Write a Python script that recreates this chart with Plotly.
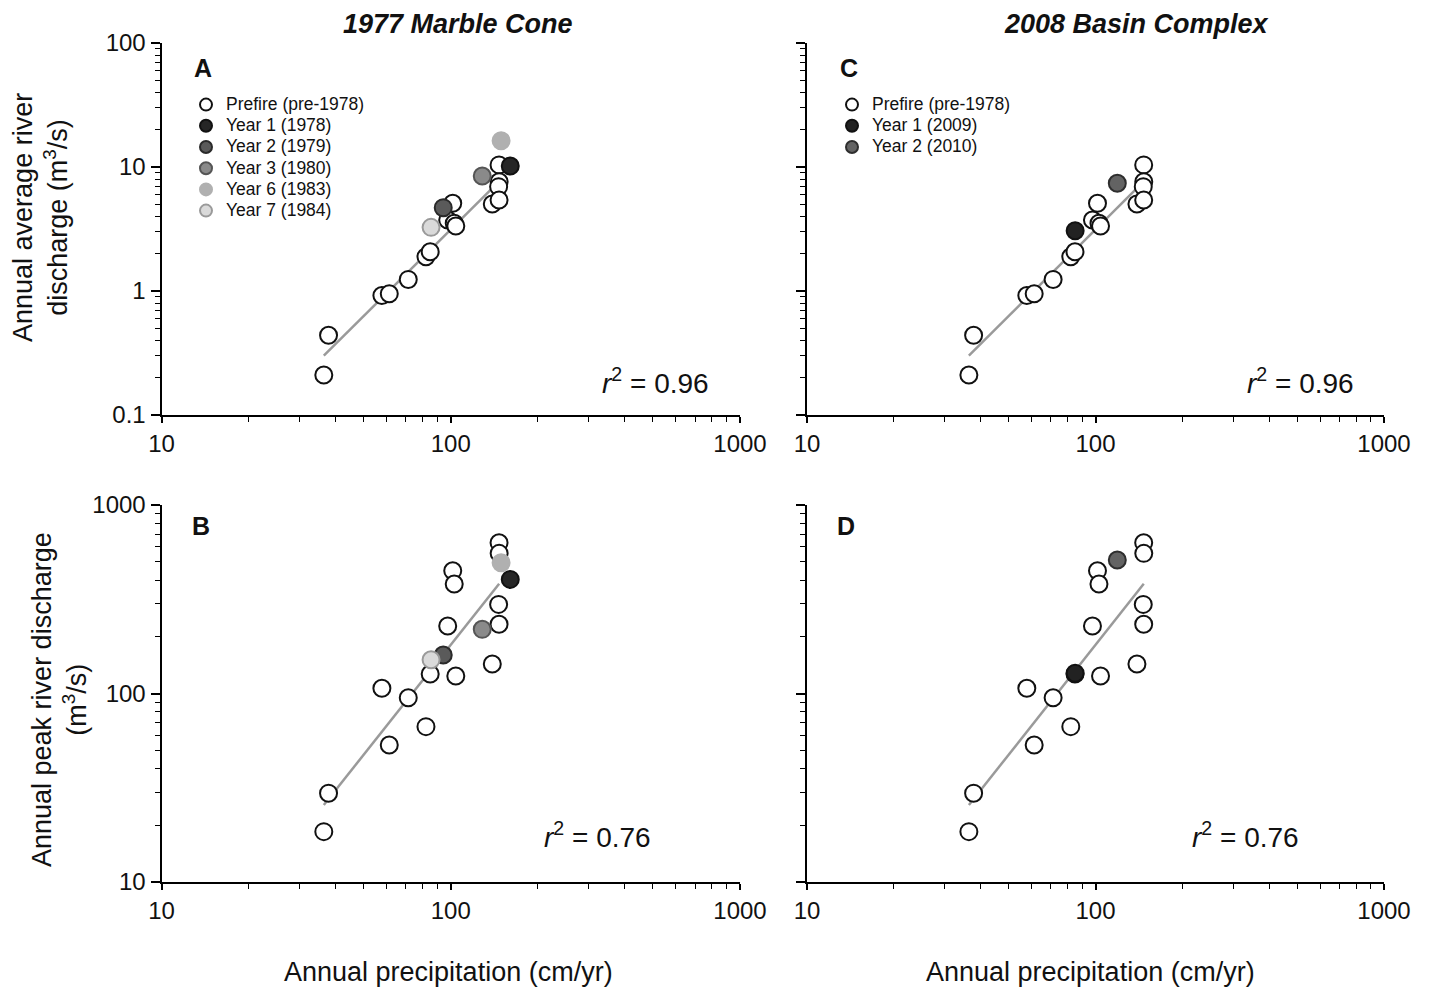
import numpy as np
import plotly.graph_objects as go

# ---------------- data ----------------
# Prefire (pre-1978) observations, shared by both fire panels
pre_precip = [36.4, 37.8, 57.8, 61.3, 71.3, 82.1, 84.9, 97.6, 101.6, 102.8,
              104.1, 139.2, 146.9, 147.0, 146.4, 146.9]
pre_avg = [0.21, 0.44, 0.92, 0.95, 1.24, 1.89, 2.07, 3.74, 5.10, 3.52,
           3.34, 5.03, 10.4, 7.61, 6.94, 5.42]
pre_peak = [18.5, 29.6, 106.6, 53.3, 95.0, 66.7, 126.9, 228, 448, 381,
            123.8, 143.4, 631, 554, 297, 233]

# 1977 Marble Cone postfire years
mc_labels = ["Year 1 (1978)", "Year 2 (1979)", "Year 3 (1980)",
             "Year 6 (1983)", "Year 7 (1984)"]
mc_precip = [160.6, 94.2, 128.5, 149.3, 85.5]
mc_avg = [10.2, 4.70, 8.46, 16.3, 3.26]
mc_peak = [403, 160, 219, 494, 151]

# 2008 Basin Complex postfire years
bc_labels = ["Year 1 (2009)", "Year 2 (2010)"]
bc_precip = [85.0, 119.0]
bc_avg = [3.06, 7.39]
bc_peak = [128, 511]

prefire_label = "Prefire (pre-1978)"
r2_avg = 0.96
r2_peak = 0.76

x_tick_vals = [10, 100, 1000]
x_tick_text = ["10", "100", "1000"]
avg_tick_vals = [0.1, 1, 10, 100]
avg_tick_text = ["0.1", "1", "10", "100"]
peak_tick_vals = [10, 100, 1000]
peak_tick_text = ["10", "100", "1000"]

# ---------------- styles ----------------
W, H = 1430, 993
OFF = 8  # page body margin
FONT = "Liberation Sans, Arial, Helvetica, sans-serif"
mc_fill = ["#262626", "#5a5a5a", "#8a8a8a", "#b0b0b0", "#dadada"]
mc_edge = ["#111111", "#2a2a2a", "#555555", "#b0b0b0", "#9a9a9a"]
bc_fill = ["#222222", "#636363"]
bc_edge = ["#111111", "#2e2e2e"]
MS = 17
FIT_COLOR = "#9a9a9a"
LEG_TEXT = 17.5


def px(x):
    return (x - OFF) / W


def py(y):
    return 1 - (y - OFF) / H


def minor_vals(exps):
    return [d * 10.0 ** e for e in exps for d in range(2, 10)]


def leg_name(s):
    return '<span style="font-size:%gpx">%s</span>' % (LEG_TEXT, s)


fig = go.Figure()


def fit_line(x, y):
    lx, ly = np.log10(x), np.log10(y)
    b, a = np.polyfit(lx, ly, 1)
    xs = np.array([min(x), max(x)])
    return xs, 10 ** (a + b * np.log10(xs))


panels = [
    ("x", "y", pre_avg, mc_labels, mc_precip, mc_avg, mc_fill, mc_edge, "legend"),
    ("x2", "y2", pre_avg, bc_labels, bc_precip, bc_avg, bc_fill, bc_edge, "legend2"),
    ("x3", "y3", pre_peak, mc_labels, mc_precip, mc_peak, mc_fill, mc_edge, None),
    ("x4", "y4", pre_peak, bc_labels, bc_precip, bc_peak, bc_fill, bc_edge, None),
]

for xa, ya, ypre, labs, xp, yp, fills, edges, leg in panels:
    fx, fy = fit_line(pre_precip, ypre)
    fig.add_trace(go.Scatter(x=fx, y=fy, mode="lines", xaxis=xa, yaxis=ya,
                             line=dict(color=FIT_COLOR, width=2.5),
                             showlegend=False, hoverinfo="skip"))
    fig.add_trace(go.Scatter(
        x=pre_precip, y=ypre, mode="markers", xaxis=xa, yaxis=ya,
        name=leg_name(prefire_label), showlegend=leg is not None,
        legend=leg if leg else "legend",
        marker=dict(size=MS, color="white", line=dict(color="#111111", width=2))))
    for i, lab in enumerate(labs):
        fig.add_trace(go.Scatter(
            x=[xp[i]], y=[yp[i]], mode="markers", xaxis=xa, yaxis=ya,
            name=leg_name(lab), showlegend=leg is not None,
            legend=leg if leg else "legend",
            marker=dict(size=MS, color=fills[i], line=dict(color=edges[i], width=2))))

tickfont = dict(family=FONT, size=24, color="#111111")


def xaxis(dom, anchor):
    return dict(type="log", range=[1, 3], domain=dom, anchor=anchor,
                automargin=False,
                showline=True, linecolor="black", linewidth=2, mirror=False,
                showgrid=False, zeroline=False,
                tickmode="array", tickvals=x_tick_vals, ticktext=x_tick_text,
                ticks="outside", ticklen=6, tickwidth=1.5, tickcolor="black",
                minor=dict(tickmode="array", tickvals=minor_vals([1, 2]),
                           ticks="outside", ticklen=5, tickwidth=1.2,
                           tickcolor="black", showgrid=False),
                tickfont=tickfont)


def yaxis(dom, anchor, rng, tv, tt, exps, labels):
    return dict(type="log", range=rng, domain=dom, anchor=anchor,
                automargin=False,
                showline=True, linecolor="black", linewidth=2,
                showgrid=False, zeroline=False,
                tickmode="array", tickvals=tv, ticktext=tt,
                showticklabels=labels,
                ticks="outside", ticklen=9, tickwidth=1.5, tickcolor="black",
                minor=dict(tickmode="array", tickvals=minor_vals(exps),
                           ticks="outside", ticklen=5, tickwidth=1.2,
                           tickcolor="black", showgrid=False),
                tickfont=tickfont)


xL = [px(161.5), px(740)]
xR = [px(807), px(1384)]
yT = [py(415), py(43)]
yB = [py(882), py(505)]

legend_common = dict(font=dict(family=FONT, size=14, color="#111111"),
                     bgcolor="rgba(0,0,0,0)", tracegroupgap=0,
                     xanchor="left", yanchor="top", itemsizing="constant")

fig.update_layout(
    width=W, height=H,
    margin=dict(l=0, r=0, t=0, b=0, pad=0, autoexpand=False),
    paper_bgcolor="white", plot_bgcolor="white",
    font=dict(family=FONT, color="#111111"),
    xaxis=xaxis(xL, "y"), yaxis=yaxis(yT, "x", [-1, 2], avg_tick_vals, avg_tick_text, [-1, 0, 1], True),
    xaxis2=xaxis(xR, "y2"), yaxis2=yaxis(yT, "x2", [-1, 2], avg_tick_vals, avg_tick_text, [-1, 0, 1], False),
    xaxis3=xaxis(xL, "y3"), yaxis3=yaxis(yB, "x3", [1, 3], peak_tick_vals, peak_tick_text, [1, 2], True),
    xaxis4=xaxis(xR, "y4"), yaxis4=yaxis(yB, "x4", [1, 3], peak_tick_vals, peak_tick_text, [1, 2], False),
    legend=dict(x=px(186), y=py(89), **legend_common),
    legend2=dict(x=px(832), y=py(89), **legend_common),
    showlegend=True,
)

ann = []


def add_text(x, y, text, size, bold=False, italic=False, angle=0, yanchor="middle"):
    t = text
    if bold:
        t = "<b>" + t + "</b>"
    if italic:
        t = "<i>" + t + "</i>"
    ann.append(dict(x=px(x), y=min(py(y), 1.0), xref="paper", yref="paper", text=t,
                    showarrow=False, textangle=angle, xanchor="center",
                    yanchor=yanchor, borderpad=0,
                    font=dict(family=FONT, size=size, color="#111111")))


add_text(458, 8, "1977 Marble Cone", 27, bold=True, italic=True, yanchor="top")
add_text(1136, 8, "2008 Basin Complex", 27, bold=True, italic=True, yanchor="top")
add_text(203, 68, "A", 25, bold=True)
add_text(849, 68, "C", 25, bold=True)
add_text(201, 526, "B", 25, bold=True)
add_text(846, 526, "D", 25, bold=True)
r2a = "<i>r</i><sup>2</sup> = %.2f" % r2_avg
r2p = "<i>r</i><sup>2</sup> = %.2f" % r2_peak
add_text(655, 381, r2a, 28)
add_text(1300, 381, r2a, 28)
add_text(597, 835, r2p, 28)
add_text(1245, 835, r2p, 28)
add_text(448, 972, "Annual precipitation (cm/yr)", 27)
add_text(1090, 972, "Annual precipitation (cm/yr)", 27)
add_text(40, 218, "Annual average river<br>discharge (m<sup>3</sup>/s)", 27, angle=-90)
add_text(59, 700, "Annual peak river discharge<br>(m<sup>3</sup>/s)", 27, angle=-90)

fig.update_layout(annotations=ann)

fig.write_html("out.html")
